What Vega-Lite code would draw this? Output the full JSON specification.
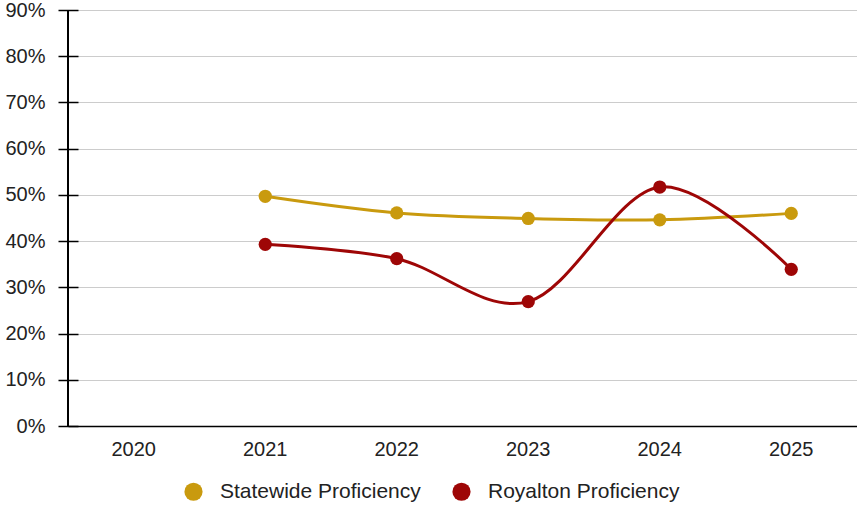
{
  "$schema": "https://vega.github.io/schema/vega-lite/v6.json",
  "width": 789,
  "height": 416,
  "autosize": "none",
  "padding": {"left": 68, "top": 10, "right": 0, "bottom": 83},
  "background": "white",
  "config": {
    "font": "Liberation Sans",
    "view": {"stroke": null}
  },
  "data": {
    "values": [
      {"year": "2021", "series": "Statewide Proficiency", "value": 0.497},
      {"year": "2022", "series": "Statewide Proficiency", "value": 0.461},
      {"year": "2023", "series": "Statewide Proficiency", "value": 0.449},
      {"year": "2024", "series": "Statewide Proficiency", "value": 0.446},
      {"year": "2025", "series": "Statewide Proficiency", "value": 0.460},
      {"year": "2021", "series": "Royalton Proficiency", "value": 0.393},
      {"year": "2022", "series": "Royalton Proficiency", "value": 0.362},
      {"year": "2023", "series": "Royalton Proficiency", "value": 0.269},
      {"year": "2024", "series": "Royalton Proficiency", "value": 0.517},
      {"year": "2025", "series": "Royalton Proficiency", "value": 0.339}
    ]
  },
  "encoding": {
    "x": {
      "field": "year",
      "type": "ordinal",
      "scale": {
        "type": "band",
        "domain": ["2020", "2021", "2022", "2023", "2024", "2025"],
        "paddingInner": 0,
        "paddingOuter": 0
      },
      "axis": {
        "title": null,
        "labelAngle": 0,
        "labelFontSize": 20,
        "labelColor": "#222222",
        "labelPadding": 13,
        "ticks": false,
        "domainColor": "#000000",
        "domainWidth": 1.5,
        "grid": false
      }
    },
    "y": {
      "field": "value",
      "type": "quantitative",
      "scale": {"domain": [0, 0.9], "nice": false, "zero": true},
      "axis": {
        "title": null,
        "format": ".0%",
        "values": [0, 0.1, 0.2, 0.3, 0.4, 0.5, 0.6, 0.7, 0.8, 0.9],
        "offset": -10,
        "domain": false,
        "tickSize": 20,
        "tickColor": "#000000",
        "tickWidth": 1.5,
        "labelFontSize": 20,
        "labelColor": "#222222",
        "labelPadding": 13,
        "gridColor": "#cccccc",
        "gridWidth": 1
      }
    },
    "color": {
      "field": "series",
      "type": "nominal",
      "scale": {
        "domain": ["Statewide Proficiency", "Royalton Proficiency"],
        "range": ["#c99a0e", "#9e0606"]
      },
      "legend": {
        "title": null,
        "orient": "none",
        "direction": "horizontal",
        "legendX": 115,
        "legendY": 471,
        "symbolType": "circle",
        "symbolSize": 330,
        "symbolStrokeWidth": 0,
        "labelFontSize": 21,
        "labelLimit": 400,
        "labelColor": "#222222",
        "labelOffset": 16,
        "columnPadding": 30
      }
    }
  },
  "layer": [
    {
      "mark": {"type": "rule", "color": "#000000", "strokeWidth": 1.5},
      "encoding": {
        "x": {"datum": "2020", "type": "ordinal", "bandPosition": 0},
        "y": null,
        "color": null
      }
    },
    {
      "mark": {"type": "line", "interpolate": "cardinal", "strokeWidth": 3}
    },
    {
      "mark": {"type": "point", "filled": true, "opacity": 1, "size": 175}
    }
  ]
}
